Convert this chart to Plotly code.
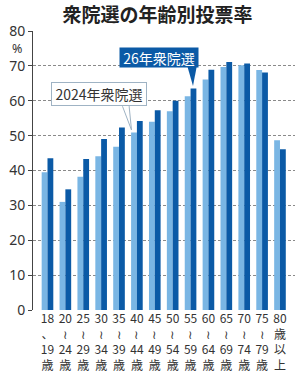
import plotly.graph_objects as go

age_start = ["18", "20", "25", "30", "35", "40", "45", "50", "55", "60", "65", "70", "75"]
age_end = ["19", "24", "29", "34", "39", "44", "49", "54", "59", "64", "69", "74", "79"]
last_label = ["80", "歳", "以", "上"]
rate_2024 = [39.5, 31.0, 38.2, 44.1, 46.8, 50.9, 54.0, 57.0, 61.3, 66.1, 69.7, 70.2, 68.8, 48.7]
rate_2026 = [43.5, 34.6, 43.3, 49.0, 52.3, 54.2, 57.3, 60.0, 63.5, 68.9, 71.1, 70.7, 68.1, 46.1]
y_ticks = [0, 10, 20, 30, 40, 50, 60, 70, 80]

LIGHT = "#7ab6e4"
DARK = "#0b5aa6"
CJK = "Noto Sans CJK JP"

tick_text = []
for i, (a, b) in enumerate(zip(age_start, age_end)):
    sep = "、" if i == 0 else "≀"
    tick_text.append(f"{a}<br>{sep}<br>{b}<br>歳")
tick_text.append("<br>".join(last_label))
xs = list(range(len(rate_2024)))

fig = go.Figure()
fig.add_bar(x=xs, y=rate_2024, marker_color=LIGHT, marker_line_width=0, name="2024年衆院選")
fig.add_bar(x=xs, y=rate_2026, marker_color=DARK, marker_line_width=0, name="26年衆院選")

W, H = 300, 379
L, R, T, B = 33, 5, 31, 69
pw, ph = W - L - R, H - T - B


def px(x):
    return (x - L) / pw


def py(y):
    return (H - B - y) / ph


fig.update_layout(
    width=W, height=H, autosize=False,
    margin=dict(l=L, r=R, t=T, b=B),
    paper_bgcolor="white", plot_bgcolor="white",
    barmode="group", bargap=0.35, bargroupgap=0,
    showlegend=False,
    font=dict(family=CJK, color="#333"),
    title=dict(text="<b>衆院選の年齢別投票率</b>", x=0.525, xanchor="center", y=1 - 15 / H, yanchor="middle",
               font=dict(size=19, family=CJK, color="#222")),
)
fig.update_xaxes(
    range=[-0.81, 13.84], tickvals=xs, ticktext=tick_text, showgrid=False, showline=False,
    ticks="", tickfont=dict(size=12, family=CJK, color="#333"), zeroline=False,
)
fig.update_yaxes(
    range=[0, 80], tickvals=y_ticks, ticktext=[str(v) for v in y_ticks],
    showgrid=True, gridcolor="#8a8a8a", griddash="3px,2px", gridwidth=1,
    showline=True, linecolor="#444", linewidth=1, ticks="outside", ticklen=4, tickcolor="#444",
    tickfont=dict(size=14, family="Noto Sans", color="#333"), zeroline=False,
)

# percent unit label
fig.add_annotation(text="%", x=px(17), y=py(48), xref="paper", yref="paper", showarrow=False,
                   xanchor="center", yanchor="middle",
                   font=dict(size=12.5, family="Noto Sans", color="#333"))

# 2024 callout: pointer triangle then box
fig.add_shape(type="path", xref="paper", yref="paper",
              path=f"M {px(122)},{py(105)} L {px(131.5)},{py(130)} L {px(129)},{py(105)} Z",
              fillcolor="white", line=dict(color="#9fb3c4", width=1))
fig.add_annotation(text="2024年衆院選", x=px(99), y=py(94), xref="paper", yref="paper", showarrow=False,
                   xanchor="center", yanchor="middle",
                   width=92, height=20, bgcolor="white", bordercolor="#9fb3c4", borderwidth=1, borderpad=1,
                   font=dict(size=14, family=CJK, color="#333"))
fig.add_shape(type="line", xref="paper", yref="paper", x0=px(122.6), x1=px(128.4), y0=py(105.6), y1=py(105.6),
              line=dict(color="white", width=2))

# 26 callout
fig.add_shape(type="path", xref="paper", yref="paper",
              path=f"M {px(187)},{py(65)} L {px(193)},{py(86)} L {px(197)},{py(65)} Z",
              fillcolor=DARK, line=dict(color=DARK, width=0))
fig.add_annotation(text="26年衆院選", x=px(159), y=py(57.5), xref="paper", yref="paper", showarrow=False,
                   xanchor="center", yanchor="middle",
                   width=76, height=17, bgcolor=DARK, borderpad=1,
                   font=dict(size=14, family=CJK, color="white"))

fig.write_html("out.html")
